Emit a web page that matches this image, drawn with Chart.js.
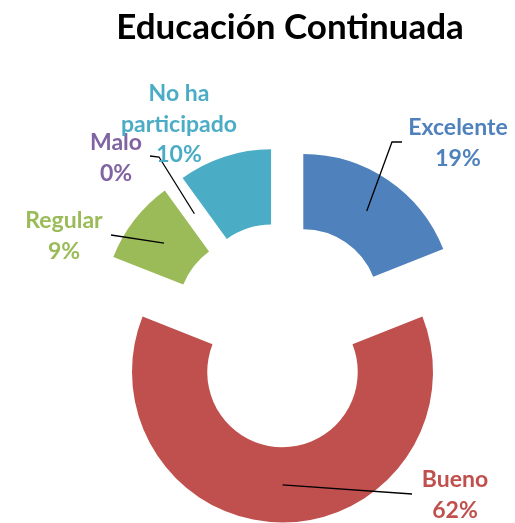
<!DOCTYPE html>
<html>
<head>
<meta charset="utf-8">
<script src="https://cdn.jsdelivr.net/npm/chart.js@4"></script>
<style>
  html, body { margin: 0; padding: 0; background: #fff; }
  canvas { display: block; }
</style>
</head>
<body>
<canvas id="donutChart" width="515" height="523"></canvas>
<script>
var chartTitle = 'Educación Continuada';
var labels = ['Excelente', 'Bueno', 'Regular', 'Malo', 'No ha participado'];
var values = [19, 62, 9, 0, 10];
var colors = ['#4F81BD', '#C0504D', '#9BBB59', '#8064A2', '#4BACC6'];

// where each label sits, and the bend of its leader line (null = no line)
var labelSpots = [
  { x: 458, y: 135, lines: ['Excelente'], tail: [[402, 142], [392, 142]] },
  { x: 455, y: 487, lines: ['Bueno'], tail: [[412, 494]] },
  { x: 64, y: 228, lines: ['Regular'], tail: [[111, 235]] },
  { x: 116, y: 150, lines: ['Malo'], tail: [[150, 156], [159, 157]] },
  { x: 179, y: 101, lines: ['No ha', 'participado'], tail: null }
];
var explode = 37;
var labelFont = 'bold 23px Lato';
var lineGap = 30.5;

var total = values.reduce(function (a, b) { return a + b; }, 0);

// pull every slice out from the centre along its middle angle
var explodePlugin = {
  id: 'explode',
  afterDatasetUpdate: function (chart, args) {
    args.meta.data.forEach(function (arc) {
      var mid = (arc.startAngle + arc.endAngle) / 2;
      arc.x += Math.cos(mid) * explode;
      arc.y += Math.sin(mid) * explode;
    });
  }
};

var labelPlugin = {
  id: 'sliceLabels',
  afterDatasetsDraw: function (chart) {
    var ctx = chart.ctx;
    var arcs = chart.getDatasetMeta(0).data;
    ctx.save();

    ctx.font = 'bold 35px Lato';
    ctx.fillStyle = '#000';
    ctx.textAlign = 'center';
    ctx.textBaseline = 'alphabetic';
    ctx.fillText(chartTitle, 290, 39);

    arcs.forEach(function (arc, i) {
      var spot = labelSpots[i];
      var mid = (arc.startAngle + arc.endAngle) / 2;
      var r = (arc.innerRadius + arc.outerRadius) / 2;
      var ax = arc.x + Math.cos(mid) * r;
      var ay = arc.y + Math.sin(mid) * r;

      if (spot.tail) {
        ctx.beginPath();
        ctx.strokeStyle = '#000';
        ctx.lineWidth = 1.3;
        ctx.moveTo(spot.tail[0][0], spot.tail[0][1]);
        for (var k = 1; k < spot.tail.length; k++) ctx.lineTo(spot.tail[k][0], spot.tail[k][1]);
        ctx.lineTo(ax, ay);
        ctx.stroke();
      }

      var pct = Math.round(values[i] / total * 100) + '%';
      var lines = spot.lines.concat([pct]);
      ctx.font = labelFont;
      ctx.fillStyle = colors[i];
      ctx.textAlign = 'center';
      lines.forEach(function (t, j) {
        ctx.fillText(t, spot.x, spot.y + j * lineGap);
      });
    });
    ctx.restore();
  }
};

var ctx = document.getElementById('donutChart').getContext('2d');
var myChart = new Chart(ctx, {
  type: 'doughnut',
  data: {
    labels: labels,
    datasets: [{
      data: values,
      backgroundColor: colors,
      borderWidth: 0,
      hoverOffset: 0
    }]
  },
  options: {
    responsive: false,
    animation: false,
    events: [],
    radius: 150.5,
    cutout: '50%',
    layout: { padding: { left: 60, right: 10, top: 170, bottom: 23 } },
    plugins: {
      legend: { display: false },
      tooltip: { enabled: false },
      title: { display: false }
    }
  },
  plugins: [explodePlugin, labelPlugin]
});
</script>
</body>
</html>
